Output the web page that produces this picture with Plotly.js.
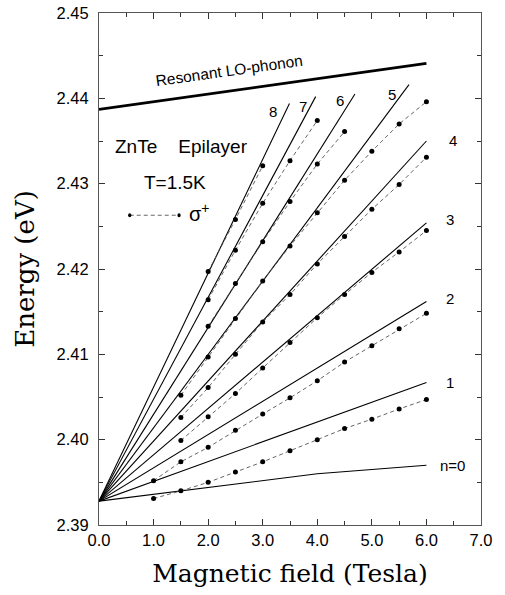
<!DOCTYPE html>
<html>
<head>
<meta charset="utf-8">
<script src="https://cdn.plot.ly/plotly-3.0.1.min.js"></script>
<style>html,body{margin:0;padding:0;background:#fff;}#chart{width:505px;height:595px;}</style>
</head>
<body>
<div id="chart"></div>
<script>
// ---- Data ----
var E0 = 2.3928; // common origin of the Landau fan (eV)

// Theory lines (solid): field and energy end points
var n0X = [0, 1.0, 1.5, 2.0, 3.0, 4.0, 5.0, 6.0];
var n0Y = [2.3928, 2.3936, 2.3940, 2.3944, 2.3952, 2.3960, 2.3965, 2.3970];
var fanLevels = ["1", "2", "3", "4", "5", "6", "7", "8"];
var fanEndX = [6.0, 6.0, 6.0, 6.0, 5.68, 4.69, 3.97, 3.49];
var fanEndY = [2.4067, 2.4162, 2.4254, 2.4350, 2.4416, 2.4405, 2.4402, 2.4394];

// Resonant LO-phonon line
var loX = [0, 6.0];
var loY = [2.4387, 2.4441];

// sigma+ measured points (dashed with dots)
var s1X = [1.0, 1.5, 2.0, 2.5, 3.0, 3.5, 4.0, 4.5, 5.0, 5.5, 6.0];
var s1Y = [2.3931, 2.3940, 2.3950, 2.3962, 2.3974, 2.3987, 2.4000, 2.4013, 2.4024, 2.4036, 2.4047];
var s2X = [1.0, 1.5, 2.0, 2.5, 3.0, 3.5, 4.0, 4.5, 5.0, 5.5, 6.0];
var s2Y = [2.3952, 2.3974, 2.3991, 2.4011, 2.4030, 2.4049, 2.4069, 2.4091, 2.4110, 2.4130, 2.4148];
var s3X = [1.5, 2.0, 2.5, 3.0, 3.5, 4.0, 4.5, 5.0, 5.5, 6.0];
var s3Y = [2.3999, 2.4027, 2.4054, 2.4084, 2.4114, 2.4143, 2.4170, 2.4196, 2.4220, 2.4245];
var s4X = [1.5, 2.0, 2.5, 3.0, 3.5, 4.0, 4.5, 5.0, 5.5, 6.0];
var s4Y = [2.4026, 2.4061, 2.4100, 2.4138, 2.4170, 2.4206, 2.4238, 2.4270, 2.4299, 2.4331];
var s5X = [1.5, 2.0, 2.5, 3.0, 3.5, 4.0, 4.5, 5.0, 5.5, 6.0];
var s5Y = [2.4052, 2.4097, 2.4142, 2.4186, 2.4227, 2.4266, 2.4304, 2.4338, 2.4370, 2.4396];
var s6X = [2.0, 2.5, 3.0, 3.5, 4.0, 4.5];
var s6Y = [2.4133, 2.4183, 2.4232, 2.4279, 2.4323, 2.4361];
var s7X = [2.0, 2.5, 3.0, 3.5, 4.0];
var s7Y = [2.4164, 2.4222, 2.4277, 2.4327, 2.4374];
var s8X = [2.0, 2.5, 3.0];
var s8Y = [2.4197, 2.4258, 2.4321];

// Level labels
var labelText = ["8", "7", "6", "5", "4", "3", "2", "1", "n=0"];
var labelX = [3.18, 3.74, 4.41, 5.36, 6.49, 6.44, 6.44, 6.44, 6.48];
var labelY = [2.4385, 2.4391, 2.4397, 2.4404, 2.4351, 2.4258, 2.4166, 2.4067, 2.3970];

// Axis ticks
var xTicks = [0, 1, 2, 3, 4, 5, 6, 7];
var yTicks = [2.39, 2.40, 2.41, 2.42, 2.43, 2.44, 2.45];

// ---- Build traces ----
var traces = [];
var solid = {color: "#000", width: 1.1};
traces.push({x: n0X, y: n0Y, mode: "lines", line: solid, hoverinfo: "skip"});
for (var i = 0; i < fanLevels.length; i++) {
  traces.push({x: [0, fanEndX[i]], y: [E0, fanEndY[i]], mode: "lines", line: solid, name: "n=" + fanLevels[i], hoverinfo: "skip"});
}
traces.push({x: loX, y: loY, mode: "lines", line: {color: "#000", width: 2.6}, hoverinfo: "skip"});

var sx = [s1X, s2X, s3X, s4X, s5X, s6X, s7X, s8X];
var sy = [s1Y, s2Y, s3Y, s4Y, s5Y, s6Y, s7Y, s8Y];
for (var k = 0; k < sx.length; k++) {
  traces.push({
    x: sx[k], y: sy[k], mode: "lines+markers",
    line: {color: "#555", width: 0.9, dash: "4px,3px"},
    marker: {color: "#000", size: 5},
    hoverinfo: "skip"
  });
}

var sans = "Liberation Sans, Arial, sans-serif";
var annFont = {family: sans, size: 15, color: "#000"};
var annotations = [];
for (var j = 0; j < labelText.length; j++) {
  annotations.push({x: labelX[j], y: labelY[j], xref: "x", yref: "y", text: labelText[j], showarrow: false, font: annFont});
}
annotations.push({x: 2.38, y: 2.4433, xref: "x", yref: "y", text: "Resonant LO-phonon", textangle: -8, showarrow: false,
  font: {family: sans, size: 15.5, color: "#000"}});
annotations.push({x: 1.515, y: 2.4343, xref: "x", yref: "y", text: "ZnTe&nbsp;&nbsp;&nbsp;&nbsp;Epilayer", showarrow: false,
  font: {family: sans, size: 19, color: "#000"}});
annotations.push({x: 1.39, y: 2.4301, xref: "x", yref: "y", text: "T=1.5K", showarrow: false,
  font: {family: sans, size: 19, color: "#000"}});
annotations.push({x: 1.85, y: 2.4266, xref: "x", yref: "y", text: "σ<sup>+</sup>", showarrow: false,
  font: {family: sans, size: 20, color: "#000"}});

// Legend key drawn as decoration
var legY = 2.4263, legX0 = 0.563, legX1 = 1.467, r = 0.03, ry = 0.00024;
var shapes = [
  {type: "line", xref: "x", yref: "y", x0: legX0, x1: legX1, y0: legY, y1: legY, line: {color: "#555", width: 0.9, dash: "4px,3px"}},
  {type: "circle", xref: "x", yref: "y", x0: legX0 - r, x1: legX0 + r, y0: legY - ry, y1: legY + ry, fillcolor: "#000", line: {width: 0}},
  {type: "circle", xref: "x", yref: "y", x0: legX1 - r, x1: legX1 + r, y0: legY - ry, y1: legY + ry, fillcolor: "#000", line: {width: 0}}
];

var tickFont = {family: sans, size: 16.5, color: "#000"};
var layout = {
  width: 505, height: 595,
  margin: {l: 99, r: 24, t: 13, b: 70},
  paper_bgcolor: "#fff", plot_bgcolor: "#fff",
  showlegend: false,
  xaxis: {
    range: [0, 7], tickvals: xTicks, tickformat: ".1f",
    ticks: "inside", ticklen: 6, tickcolor: "#333", tickwidth: 1,
    minor: {dtick: 0.5, ticks: "inside", ticklen: 4, tickcolor: "#333"},
    showline: true, linecolor: "#555", linewidth: 1, mirror: "ticks",
    showgrid: false, zeroline: false, tickfont: tickFont,
    title: {text: "Magnetic field (Tesla)", font: {family: "DejaVu Serif, serif", size: 25, color: "#000"}, standoff: 16}
  },
  yaxis: {
    range: [2.39, 2.45], tickvals: yTicks, tickformat: ".2f",
    ticks: "inside", ticklen: 6, tickcolor: "#333", tickwidth: 1,
    minor: {dtick: 0.005, ticks: "inside", ticklen: 4, tickcolor: "#333"},
    showline: true, linecolor: "#555", linewidth: 1, mirror: "ticks",
    showgrid: false, zeroline: false, tickfont: tickFont, ticklabelstandoff: 6,
    title: {text: "Energy (eV)", font: {family: "DejaVu Serif, serif", size: 26, color: "#000"}, standoff: 14}
  },
  annotations: annotations,
  shapes: shapes
};

Plotly.newPlot("chart", traces, layout, {displayModeBar: false, staticPlot: true});
</script>
</body>
</html>
